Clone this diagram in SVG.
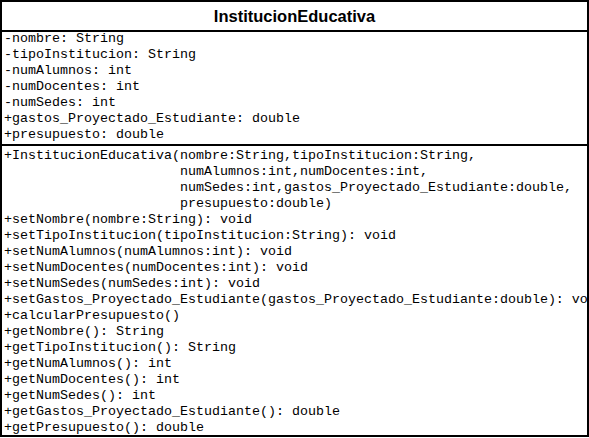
<svg xmlns="http://www.w3.org/2000/svg" width="589" height="438" viewBox="0 0 589 438">
  <style>
    .frame { fill: #ffffff; stroke: #000000; stroke-width: 2; }
    .sep { stroke: #000000; stroke-width: 2; }
    .title { font-family: "Liberation Sans", Arial, sans-serif; font-weight: bold; font-size: 16.5px; fill: #000000; text-anchor: middle; }
    .mono { font-family: "Liberation Mono", "Courier New", monospace; font-size: 13.33px; fill: #000000; white-space: pre; }
  </style>
  <defs>
    <clipPath id="inner">
      <rect x="2" y="2" width="585" height="433"/>
    </clipPath>
  </defs>

  <g id="InstitucionEducativa">
    <rect class="frame" x="1" y="1" width="587" height="435"/>
    <text class="title" x="294.5" y="22">InstitucionEducativa</text>
    <line class="sep" x1="1" y1="31" x2="588" y2="31"/>
    <line class="sep" x1="1" y1="145" x2="588" y2="145"/>

    <!-- attributes -->
    <g class="mono">
      <text x="4" y="42">-nombre: String</text>
      <text x="4" y="58">-tipoInstitucion: String</text>
      <text x="4" y="74">-numAlumnos: int</text>
      <text x="4" y="90">-numDocentes: int</text>
      <text x="4" y="106">-numSedes: int</text>
      <text x="4" y="122">+gastos_Proyectado_Estudiante: double</text>
      <text x="4" y="138">+presupuesto: double</text>
    </g>

    <!-- operations; the longest signature runs past the right border and is clipped there -->
    <g class="mono" clip-path="url(#inner)">
      <text x="4" y="159">+InstitucionEducativa(nombre:String,tipoInstitucion:String,</text>
      <text x="180" y="175">numAlumnos:int,numDocentes:int,</text>
      <text x="180" y="191">numSedes:int,gastos_Proyectado_Estudiante:double,</text>
      <text x="180" y="207">presupuesto:double)</text>
      <text x="4" y="223">+setNombre(nombre:String): void</text>
      <text x="4" y="239">+setTipoInstitucion(tipoInstitucion:String): void</text>
      <text x="4" y="255">+setNumAlumnos(numAlumnos:int): void</text>
      <text x="4" y="271">+setNumDocentes(numDocentes:int): void</text>
      <text x="4" y="287">+setNumSedes(numSedes:int): void</text>
      <text x="4" y="303">+setGastos_Proyectado_Estudiante(gastos_Proyectado_Estudiante:double): void</text>
      <text x="4" y="319">+calcularPresupuesto()</text>
      <text x="4" y="335">+getNombre(): String</text>
      <text x="4" y="351">+getTipoInstitucion(): String</text>
      <text x="4" y="367">+getNumAlumnos(): int</text>
      <text x="4" y="383">+getNumDocentes(): int</text>
      <text x="4" y="399">+getNumSedes(): int</text>
      <text x="4" y="415">+getGastos_Proyectado_Estudiante(): double</text>
      <text x="4" y="431">+getPresupuesto(): double</text>
    </g>
  </g>
</svg>
